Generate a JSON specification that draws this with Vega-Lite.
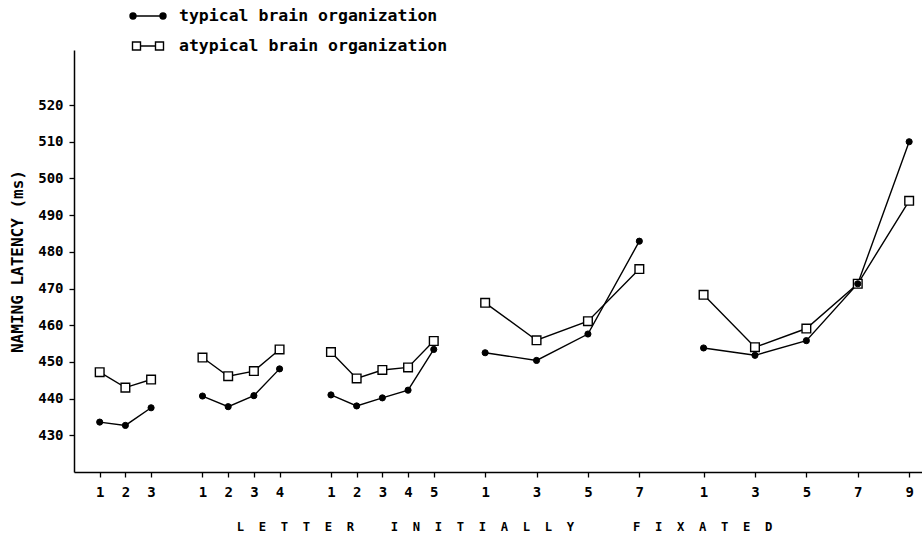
{
  "$schema": "https://vega.github.io/schema/vega-lite/v6.json",
  "autosize": {"type": "none"},
  "padding": {"left": 74, "top": 50, "right": 0, "bottom": 67},
  "width": 848,
  "height": 422,
  "background": "white",
  "config": {
    "view": {"stroke": null},
    "font": "DejaVu Sans Mono",
    "axis": {"grid": false, "domainColor": "black", "tickColor": "black", "labelColor": "black", "titleColor": "black", "labelFont": "DejaVu Sans Mono", "titleFont": "DejaVu Sans Mono", "labelFontWeight": "bold", "titleFontWeight": "bold", "domainWidth": 1.5, "tickWidth": 1.3},
    "legend": {"symbolStrokeColor": "black", "symbolStrokeWidth": 1.4, "symbolOpacity": 1}
  },
  "data": {
    "values": [
      {"org": "typical brain organization", "len": 3, "pos": 1, "slot": 1, "rt": 433.6},
      {"org": "typical brain organization", "len": 3, "pos": 2, "slot": 2, "rt": 432.7},
      {"org": "typical brain organization", "len": 3, "pos": 3, "slot": 3, "rt": 437.5},
      {"org": "typical brain organization", "len": 4, "pos": 1, "slot": 5, "rt": 440.7},
      {"org": "typical brain organization", "len": 4, "pos": 2, "slot": 6, "rt": 437.8},
      {"org": "typical brain organization", "len": 4, "pos": 3, "slot": 7, "rt": 440.8},
      {"org": "typical brain organization", "len": 4, "pos": 4, "slot": 8, "rt": 448.1},
      {"org": "typical brain organization", "len": 5, "pos": 1, "slot": 10, "rt": 441.0},
      {"org": "typical brain organization", "len": 5, "pos": 2, "slot": 11, "rt": 438.0},
      {"org": "typical brain organization", "len": 5, "pos": 3, "slot": 12, "rt": 440.2},
      {"org": "typical brain organization", "len": 5, "pos": 4, "slot": 13, "rt": 442.3},
      {"org": "typical brain organization", "len": 5, "pos": 5, "slot": 14, "rt": 453.4},
      {"org": "typical brain organization", "len": 7, "pos": 1, "slot": 16, "rt": 452.5},
      {"org": "typical brain organization", "len": 7, "pos": 3, "slot": 18, "rt": 450.4},
      {"org": "typical brain organization", "len": 7, "pos": 5, "slot": 20, "rt": 457.6},
      {"org": "typical brain organization", "len": 7, "pos": 7, "slot": 22, "rt": 482.9},
      {"org": "typical brain organization", "len": 9, "pos": 1, "slot": 24.5, "rt": 453.8},
      {"org": "typical brain organization", "len": 9, "pos": 3, "slot": 26.5, "rt": 451.8},
      {"org": "typical brain organization", "len": 9, "pos": 5, "slot": 28.5, "rt": 455.8},
      {"org": "typical brain organization", "len": 9, "pos": 7, "slot": 30.5, "rt": 471.3},
      {"org": "typical brain organization", "len": 9, "pos": 9, "slot": 32.5, "rt": 510.0},
      {"org": "atypical brain organization", "len": 3, "pos": 1, "slot": 1, "rt": 447.2},
      {"org": "atypical brain organization", "len": 3, "pos": 2, "slot": 2, "rt": 443.0},
      {"org": "atypical brain organization", "len": 3, "pos": 3, "slot": 3, "rt": 445.2},
      {"org": "atypical brain organization", "len": 4, "pos": 1, "slot": 5, "rt": 451.2},
      {"org": "atypical brain organization", "len": 4, "pos": 2, "slot": 6, "rt": 446.1},
      {"org": "atypical brain organization", "len": 4, "pos": 3, "slot": 7, "rt": 447.5},
      {"org": "atypical brain organization", "len": 4, "pos": 4, "slot": 8, "rt": 453.4},
      {"org": "atypical brain organization", "len": 5, "pos": 1, "slot": 10, "rt": 452.7},
      {"org": "atypical brain organization", "len": 5, "pos": 2, "slot": 11, "rt": 445.5},
      {"org": "atypical brain organization", "len": 5, "pos": 3, "slot": 12, "rt": 447.8},
      {"org": "atypical brain organization", "len": 5, "pos": 4, "slot": 13, "rt": 448.5},
      {"org": "atypical brain organization", "len": 5, "pos": 5, "slot": 14, "rt": 455.7},
      {"org": "atypical brain organization", "len": 7, "pos": 1, "slot": 16, "rt": 466.1},
      {"org": "atypical brain organization", "len": 7, "pos": 3, "slot": 18, "rt": 455.9},
      {"org": "atypical brain organization", "len": 7, "pos": 5, "slot": 20, "rt": 461.1},
      {"org": "atypical brain organization", "len": 7, "pos": 7, "slot": 22, "rt": 475.3},
      {"org": "atypical brain organization", "len": 9, "pos": 1, "slot": 24.5, "rt": 468.3},
      {"org": "atypical brain organization", "len": 9, "pos": 3, "slot": 26.5, "rt": 454.0},
      {"org": "atypical brain organization", "len": 9, "pos": 5, "slot": 28.5, "rt": 459.1},
      {"org": "atypical brain organization", "len": 9, "pos": 7, "slot": 30.5, "rt": 471.3},
      {"org": "atypical brain organization", "len": 9, "pos": 9, "slot": 32.5, "rt": 493.9}
    ]
  },
  "encoding": {
    "x": {
      "field": "slot", "type": "quantitative",
      "scale": {"domain": [0, 33], "nice": false, "zero": false},
      "axis": {
        "values": [1, 2, 3, 5, 6, 7, 8, 10, 11, 12, 13, 14, 16, 18, 20, 22, 24.5, 26.5, 28.5, 30.5, 32.5],
        "labelExpr": "datum.value < 4 ? datum.value : datum.value < 9 ? datum.value - 4 : datum.value < 15 ? datum.value - 9 : datum.value < 23 ? datum.value - 15 : datum.value - 23.5",
        "title": "L\u00a0\u00a0E\u00a0\u00a0T\u00a0\u00a0T\u00a0\u00a0E\u00a0\u00a0R\u00a0\u00a0\u00a0\u00a0\u00a0I\u00a0\u00a0N\u00a0\u00a0I\u00a0\u00a0T\u00a0\u00a0I\u00a0\u00a0A\u00a0\u00a0L\u00a0\u00a0L\u00a0\u00a0Y\u00a0\u00a0\u00a0\u00a0\u00a0\u00a0\u00a0\u00a0F\u00a0\u00a0I\u00a0\u00a0X\u00a0\u00a0A\u00a0\u00a0T\u00a0\u00a0E\u00a0\u00a0D",
        "titleFontSize": 12.2,
        "titlePadding": 21,
        "titleX": 430,
        "labelFontSize": 14,
        "labelPadding": 8,
        "tickSize": 5,
        "labelFlush": false,
        "labelOverlap": false
      }
    },
    "y": {
      "field": "rt", "type": "quantitative",
      "scale": {"domain": [420, 535], "nice": false, "zero": false},
      "axis": {
        "values": [430, 440, 450, 460, 470, 480, 490, 500, 510, 520],
        "title": "NAMING LATENCY (ms)",
        "titleFontSize": 16,
        "titlePadding": 12,
        "labelFontSize": 14,
        "labelPadding": 6,
        "tickSize": 5
      }
    }
  },
  "layer": [
    {
      "mark": {"type": "line", "color": "black", "strokeWidth": 1.4},
      "encoding": {
        "detail": [{"field": "org"}, {"field": "len"}],
        "order": {"field": "slot"}
      }
    },
    {
      "transform": [{"filter": "datum.org === 'atypical brain organization'"}],
      "mark": {"type": "point", "filled": true, "fill": "white", "stroke": "black", "strokeWidth": 1.4, "size": 75, "opacity": 1},
      "encoding": {
        "shape": {
          "field": "org", "type": "nominal",
          "scale": {"domain": ["typical brain organization", "atypical brain organization"], "range": ["circle", "square"]},
          "legend": null
        }
      }
    },
    {
      "transform": [{"filter": "datum.org === 'typical brain organization'"}],
      "mark": {"type": "point", "filled": true, "fill": "black", "stroke": "black", "strokeWidth": 1, "size": 38, "opacity": 1},
      "encoding": {
        "shape": {"field": "org", "type": "nominal", "legend": null}
      }
    },
    {
      "mark": {"type": "point", "filled": true, "stroke": "black", "strokeWidth": 1.4, "opacity": 0},
      "encoding": {
        "shape": {
          "field": "org", "type": "nominal",
          "scale": {"domain": ["typical brain organization", "atypical brain organization"], "range": ["M-1.5,0L1.5,0M-1.8,0a0.3,0.3 0 1,0 0.6,0a0.3,0.3 0 1,0 -0.6,0M1.2,0a0.3,0.3 0 1,0 0.6,0a0.3,0.3 0 1,0 -0.6,0", "M-1.55,-0.4h0.8v0.8h-0.8ZM0.75,-0.4h0.8v0.8h-0.8ZM-0.75,0L0.75,0"]},
          "legend": {
            "title": null,
            "orient": "none",
            "legendX": 63,
            "legendY": -45,
            "padding": 0,
            "symbolSize": 400,
            "symbolOpacity": 1,
            "symbolStrokeColor": "black",
            "symbolStrokeWidth": 1.4,
            "labelFont": "DejaVu Sans Mono",
            "labelFontWeight": "bold",
            "labelFontSize": 16.5,
            "labelColor": "black",
            "labelOffset": 20,
            "labelLimit": 500,
            "rowPadding": 10,
            "encode": {
              "symbols": {
                "update": {
                  "opacity": {"value": 1},
                  "size": {"value": 400},
                  "stroke": {"value": "black"},
                  "strokeWidth": {"value": 1.4}
                }
              }
            }
          }
        },
        "fill": {
          "field": "org", "type": "nominal",
          "scale": {"domain": ["typical brain organization", "atypical brain organization"], "range": ["black", "white"]},
          "legend": {
            "title": null,
            "orient": "none",
            "legendX": 63,
            "legendY": -45,
            "padding": 0,
            "symbolSize": 400,
            "symbolOpacity": 1,
            "symbolStrokeColor": "black",
            "symbolStrokeWidth": 1.4,
            "labelFont": "DejaVu Sans Mono",
            "labelFontWeight": "bold",
            "labelFontSize": 16.5,
            "labelColor": "black",
            "labelOffset": 20,
            "labelLimit": 500,
            "rowPadding": 10,
            "encode": {
              "symbols": {
                "update": {
                  "opacity": {"value": 1},
                  "size": {"value": 400},
                  "stroke": {"value": "black"},
                  "strokeWidth": {"value": 1.4}
                }
              }
            }
          }
        }
      }
    }
  ],
  "resolve": {"scale": {"shape": "independent", "fill": "independent"}}
}
